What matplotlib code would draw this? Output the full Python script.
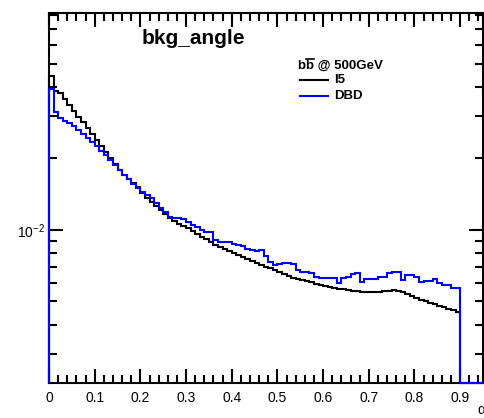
import numpy as np
import matplotlib
matplotlib.use("Agg")
import matplotlib.pyplot as plt
from matplotlib.ticker import FixedLocator, NullFormatter, MultipleLocator

plt.rcParams['font.family'] = ['Liberation Sans', 'DejaVu Sans']
plt.rcParams['mathtext.fontset'] = 'custom'
plt.rcParams['mathtext.rm'] = 'Liberation Sans'
plt.rcParams['mathtext.bf'] = 'Liberation Sans:bold'

# bin edges: 0 .. 0.95 in steps of 0.01 (bins above 0.9 are empty)
bin_width = 0.01
n_bins = 95

i5 = [0.0444, 0.0384, 0.0376, 0.0355, 0.0335, 0.0316, 0.0298, 0.0284, 0.0268, 0.0253,
      0.0239, 0.0225, 0.0213, 0.0201, 0.0189, 0.0179, 0.0170, 0.0164, 0.0158, 0.0152,
      0.0143, 0.0136, 0.0131, 0.0126, 0.0121, 0.0117, 0.0112, 0.0109, 0.0106, 0.0104,
      0.0102, 0.0099, 0.00962, 0.00935, 0.00917, 0.00890, 0.00865, 0.00848, 0.00832, 0.00816,
      0.00800, 0.00785, 0.00770, 0.00755, 0.00741, 0.00727, 0.00713, 0.00699, 0.00692, 0.00679,
      0.00666, 0.00653, 0.00641, 0.00629, 0.00622, 0.00616, 0.00610, 0.00605, 0.00593, 0.00587,
      0.00582, 0.00576, 0.00571, 0.00565, 0.00565, 0.00560, 0.00554, 0.00554, 0.00549, 0.00549,
      0.00549, 0.00549, 0.00549, 0.00554, 0.00554, 0.00560, 0.00554, 0.00549, 0.00538, 0.00528,
      0.00518, 0.00508, 0.00503, 0.00494, 0.00489, 0.00479, 0.00475, 0.00466, 0.00461, 0.00452,
      0, 0, 0, 0, 0]

dbd = [0.0391, 0.0313, 0.0296, 0.0287, 0.0282, 0.0274, 0.0263, 0.0253, 0.0244, 0.0234,
       0.0225, 0.0215, 0.0207, 0.0197, 0.0188, 0.0179, 0.0170, 0.0164, 0.0156, 0.0150,
       0.0144, 0.0140, 0.0136, 0.0130, 0.0124, 0.0119, 0.0113, 0.0112, 0.0112, 0.0111,
       0.0108, 0.0105, 0.0103, 0.0100, 0.00981, 0.00981, 0.00908, 0.00890, 0.00890, 0.00890,
       0.00873, 0.00865, 0.00857, 0.00832, 0.00824, 0.00816, 0.00824, 0.00778, 0.00734, 0.00713,
       0.00720, 0.00727, 0.00727, 0.00720, 0.00679, 0.00666, 0.00666, 0.00660, 0.00635, 0.00629,
       0.00629, 0.00629, 0.00629, 0.00599, 0.00629, 0.00635, 0.00653, 0.00660, 0.00605, 0.00622,
       0.00622, 0.00622, 0.00635, 0.00635, 0.00660, 0.00666, 0.00666, 0.00616, 0.00647, 0.00647,
       0.00635, 0.00605, 0.00610, 0.00610, 0.00622, 0.00599, 0.00587, 0.00587, 0.00571, 0.00571,
       0, 0, 0, 0, 0]

x_ticks = [0, 0.1, 0.2, 0.3, 0.4, 0.5, 0.6, 0.7, 0.8, 0.9]
x_tick_labels = ["0", "0.1", "0.2", "0.3", "0.4", "0.5", "0.6", "0.7", "0.8", "0.9"]

title = "bkg_angle"
legend_header = "bb @ 500GeV"   # second b carries an overline (anti-b)
series_names = ["I5", "DBD"]
series_colors = ["black", "#0000ff"]

edges = np.arange(n_bins + 1) * bin_width
y_min, y_max = 2.27e-3, 0.0817

W, H = 485, 418
fig = plt.figure(figsize=(W / 100, H / 100), dpi=100)
ax = fig.add_axes([49 / W, 1 - 383 / H, (483 - 49) / W, (383 - 13) / H])
ax.set_yscale('log')

for vals, col in zip([i5, dbd], series_colors):
    v = np.array(vals, dtype=float)
    v = np.where(v > 0, v, y_min)
    ax.stairs(v, edges, baseline=y_min, color=col, linewidth=1.5, fill=False,
              clip_on=False, zorder=3)

ax.set_xlim(0, 0.95)
ax.set_ylim(y_min, y_max)

ax.xaxis.set_major_locator(FixedLocator(x_ticks))
ax.set_xticklabels(x_tick_labels)
ax.xaxis.set_minor_locator(MultipleLocator(0.02))

ax.yaxis.set_major_locator(FixedLocator([1e-2]))
ax.set_yticklabels([r"$10^{-2}$"])
minors = [k * 1e-3 for k in range(2, 10)] + [k * 1e-2 for k in range(2, 9)]
ax.yaxis.set_minor_locator(FixedLocator(minors))
ax.yaxis.set_minor_formatter(NullFormatter())

ax.tick_params(which='both', direction='in', top=True, right=True, width=1.5, colors='black',
               labelsize=10)
ax.tick_params(which='major', length=10)
ax.tick_params(which='minor', length=6)
ax.tick_params(axis='x', pad=6)
ax.tick_params(axis='y', pad=3)
for s in ax.spines.values():
    s.set_linewidth(1.5)

ax.text(0.332, 0.932, title, transform=ax.transAxes, ha='center', va='center',
        fontsize=15, fontweight='bold')

# legend-like block
hx, hy = 298 / W, 1 - 66 / H
hdr = fig.text(hx, hy, legend_header, fontsize=9.5, fontweight='bold', ha='left', va='center')
probe = fig.text(hx, hy, "b", fontsize=9.5, fontweight='bold', ha='left', va='center', alpha=0)
probe2 = fig.text(hx, hy, "bb", fontsize=9.5, fontweight='bold', ha='left', va='center', alpha=0)
fig.canvas.draw()
r = fig.canvas.get_renderer()
e1 = probe.get_window_extent(r)
e2 = probe2.get_window_extent(r)
x0 = e1.x1 + 0.5
x1 = e2.x1 - 0.5
ytop = e2.y1 + 1.0
fig.add_artist(plt.Line2D([x0 / W, x1 / W], [ytop / H, ytop / H], color='black',
                          linewidth=1.2, transform=fig.transFigure))
probe.remove()
probe2.remove()

for k, (name, col) in enumerate(zip(series_names, series_colors)):
    yy = 1 - (80 + 16 * k) / H
    fig.add_artist(plt.Line2D([300 / W, 328 / W], [yy, yy], color=col, linewidth=1.5,
                              transform=fig.transFigure))
    fig.text(334 / W, yy, name, fontsize=9.5, fontweight='bold', ha='left', va='center')

fig.text(477 / W, 1 - 410 / H, "α", fontsize=10, ha='left', va='center')

fig.savefig("out.png", dpi=100)
